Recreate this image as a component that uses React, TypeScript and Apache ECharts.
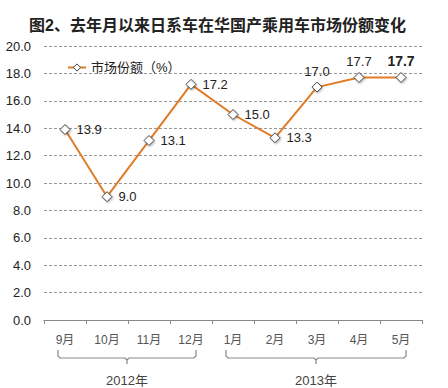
import React, { useEffect, useRef } from "react";
import * as echarts from "echarts";

const categories = ["9月", "10月", "11月", "12月", "1月", "2月", "3月", "4月", "5月"];
const shareValues = [13.9, 9.0, 13.1, 17.2, 15.0, 13.3, 17.0, 17.7, 17.7];
const labelPositions = ["right", "right", "right", "right", "right", "right", "top", "top", "top"];
const yearGroups = [
  { label: "2012年", from: 0, to: 3 },
  { label: "2013年", from: 4, to: 8 },
];
const FONT = "'Liberation Sans', Arial, 'Noto Sans CJK SC', sans-serif";

export default function App() {
  const ref = useRef<HTMLDivElement>(null);
  useEffect(() => {
    document.body.style.margin = "0";
    const chart = echarts.init(ref.current!, null, { renderer: "svg" });
    const lastIdx = shareValues.length - 1;
    chart.setOption({
      animation: false,
      backgroundColor: "#ffffff",
      textStyle: { fontFamily: FONT },
      title: {
        text: "图2、去年月以来日系车在华国产乘用车市场份额变化",
        left: 24,
        top: 12,
        textStyle: { fontSize: 16, fontWeight: "bold", color: "#222", fontFamily: FONT },
      },
      legend: {
        left: 62,
        top: 56,
        itemWidth: 18,
        itemHeight: 9,
        itemGap: 4,
        textStyle: { fontSize: 13, color: "#222", fontFamily: FONT },
        itemStyle: { color: "#ffffff", borderColor: "#444", borderWidth: 1 },
        lineStyle: { color: "#E07C24", width: 2 },
        data: ["市场份额（%）"],
      },
      grid: { left: 44, right: 26, top: 46, bottom: 68 },
      xAxis: {
        type: "category",
        data: categories,
        boundaryGap: true,
        axisLine: { lineStyle: { color: "#888", width: 1 } },
        axisTick: { show: true, length: 4, lineStyle: { color: "#888" } },
        axisLabel: { color: "#555", fontSize: 12, margin: 14, fontFamily: FONT },
      },
      yAxis: {
        type: "value",
        min: 0,
        max: 20,
        interval: 2,
        axisLine: { show: false },
        axisTick: { show: false },
        axisLabel: {
          color: "#222",
          fontSize: 13,
          margin: 13,
          fontFamily: FONT,
          formatter: (v: number) => v.toFixed(1),
        },
        splitLine: { lineStyle: { color: "#999", type: [3, 2], width: 1 } },
      },
      series: [
        {
          name: "市场份额（%）",
          type: "line",
          data: shareValues.map((v, i) => ({
            value: v,
            label: {
              show: true,
              position: labelPositions[i],
              distance: labelPositions[i] === "top" ? 4 : 6,
              fontSize: i === lastIdx ? 14 : 13,
              fontWeight: i === lastIdx ? "bold" : "normal",
              color: "#222",
              fontFamily: FONT,
              formatter: (p: any) => Number(p.value).toFixed(1),
            },
          })),
          symbol: "diamond",
          symbolSize: 10,
          lineStyle: { color: "#E07C24", width: 2 },
          itemStyle: {
            color: "#ffffff",
            borderColor: "#444",
            borderWidth: 1,
            shadowColor: "rgba(0,0,0,0.3)",
            shadowBlur: 2,
            shadowOffsetX: 1,
            shadowOffsetY: 1,
          },
        },
      ],
    });

    const graphics: any[] = [];
    const yTop = 350;
    const yMid = 358;
    const yBot = 364;
    yearGroups.forEach((g) => {
      const l = (chart.convertToPixel({ xAxisIndex: 0 }, categories[g.from]) as number) - 7;
      const r = (chart.convertToPixel({ xAxisIndex: 0 }, categories[g.to]) as number) + 5;
      const c = (l + r) / 2;
      graphics.push({
        type: "polyline",
        shape: {
          points: [
            [l, yTop],
            [l, yMid - 2],
            [l + 2, yMid],
            [c - 2, yMid],
            [c, yMid + 2],
            [c, yBot],
          ],
        },
        style: { stroke: "#888", lineWidth: 1.2, fill: null },
      });
      graphics.push({
        type: "polyline",
        shape: {
          points: [
            [c, yMid + 2],
            [c + 2, yMid],
            [r - 2, yMid],
            [r, yMid - 2],
            [r, yTop],
          ],
        },
        style: { stroke: "#888", lineWidth: 1.2, fill: null },
      });
      graphics.push({
        type: "text",
        x: c,
        y: 380,
        style: {
          text: g.label,
          fill: "#444",
          font: `13px ${FONT}`,
          align: "center",
          verticalAlign: "middle",
        },
      });
    });
    chart.setOption({ graphic: graphics });

    return () => chart.dispose();
  }, []);
  return <div ref={ref} style={{ width: 448, height: 388 }} />;
}
